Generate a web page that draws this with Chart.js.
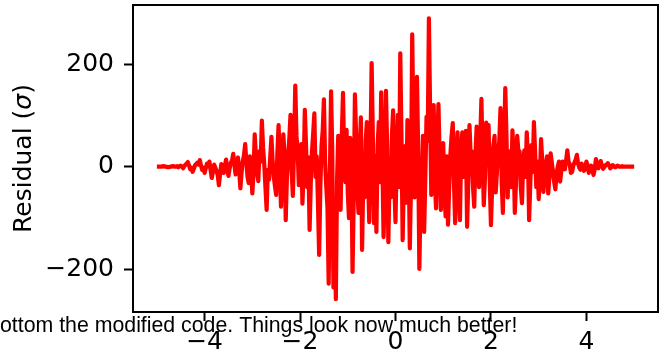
<!DOCTYPE html>
<html>
<head>
<meta charset="utf-8">
<script src="https://cdn.jsdelivr.net/npm/chart.js@4"></script>
<style>
  html, body { margin: 0; padding: 0; background: #fff; overflow: hidden; }
  #wrap { width: 661px; height: 356px; position: relative; }
</style>
</head>
<body>
<div id="wrap"><canvas id="c"></canvas></div>
<script>
// Sample grid: x from -5 to 5 in steps of 0.025
const xStart = -5;
const xStep = 0.025;

// Residuals in units of sigma, one per grid point (401 samples)
const residual = [
  0, 0, 0, 0, 0, 1, 1, 0, 0, -1, -1, 0, 0, 1, 1, 0, 0, 1, -1, 1,
  2, 0, -3, 1, 4, 6, 9, 2, -5, -2, -10, -4, 3, 5, 8, 4, 13, 2, -6, -2,
  -12, -3, 6, 1, 10, -6, -22, -10, 4, -2, -8, -16, -36, -14, 5, -4, -12, 2, 14, -6,
  -18, -3, 8, 12, 25, 4, -15, -4, 18, -8, -42, -12, 10, 22, 44, 10, -20, -32, 20, -6,
  -52, -14, 63, 20, -10, -28, 30, 10, 90, 38, 5, -40, -84, -6, -25, 18, 58, 12, -20, -38,
  -55, 26, 81, 10, -78, -12, 63, 24, -104, -20, 20, 54, 101, -12, -57, 40, 158, 60, 30, -36,
  -20, 44, -72, -10, 111, 42, -40, 18, -123, -30, 30, 64, 104, -20, 20, -70, -172, -40, 40, 70,
  131, 10, -40, -80, -228, -20, 147, 30, -235, -110, -258, -30, 60, -20, -84, 60, 144, 20, -30, 72,
  -50, -100, 56, 10, -205, -60, 141, 60, -40, -90, 30, 96, -162, -20, -60, 50, 87, -20, -108, 30,
  202, 60, -110, 20, -127, 40, 87, -30, 145, 20, -137, -40, 148, 40, -147, -20, -60, 60, 110, -30,
  -108, 20, 101, -40, 221, 60, -143, -20, 40, -70, 91, 20, -159, -30, 258, 80, -60, 50, 175, 30,
  -199, -60, -40, 60, -127, -20, 97, 50, 289, 110, -55, 40, 120, -30, -81, 50, 122, 20, -84, 40,
  46, -50, -97, 20, -113, -40, 23, 60, 85, -30, -110, 20, 67, -40, -104, 30, 67, -20, 40, 70,
  -117, -30, 81, 20, 30, -40, -78, 20, 78, 40, -40, 50, 132, 20, -75, -20, 86, 30, 81, -30,
  -114, -40, 40, 60, -50, -10, 28, 50, 114, -30, -90, 40, 153, 60, -60, 20, 30, -40, 71, 20,
  -90, -30, 60, 30, 30, -40, -71, 10, 32, -20, 67, 20, -104, -30, 42, -10, 87, 30, -40, 10,
  -63, -20, 54, 10, -49, -10, 5, 20, -52, -20, 26, 8, -10, -30, -44, -12, 0, 10, -29, -8,
  10, 6, -5, 12, 32, 10, 5, -12, -10, 2, 8, 14, 23, 6, -2, -6, 6, 0, -8, -2,
  10, 2, -12, -5, 2, -6, -16, -4, 15, 6, -3, 4, 11, 2, -4, -1, 3, 4, 7, 2,
  -3, -1, 3, 1, -1, 0, 2, 1, 0, 0, 1, 0, 0, 0, 0, 0, 0, 0, 0, 0,
  0
];

// Axis ticks
const xTickValues = [-4, -2, 0, 2, 4];
const yTickValues = [-200, 0, 200];

// Axis limits
const xLimits = [-5.5, 5.5];
const yLimits = [-283, 315];

// Texts
const yLabelParts = ['Residual (', 'σ', ')'];
const noteText = 'ottom the modified code. Things look now much better!';

const points = residual.map((v, i) => ({ x: +(xStart + i * xStep).toFixed(4), y: v }));

const tickFont = { family: '"DejaVu Sans"', size: 25 };
const fmt = v => (v < 0 ? '\u2212' + Math.abs(v) : String(v));

// Full box round the plotting area
const framePlugin = {
  id: 'frame',
  afterDatasetsDraw(chart) {
    const a = chart.chartArea, ctx = chart.ctx;
    ctx.save();
    ctx.strokeStyle = '#000';
    ctx.lineWidth = 2;
    ctx.strokeRect(a.left, a.top, a.right - a.left, a.bottom - a.top);
    ctx.restore();
  }
};

// Rotated y-axis title with an italic sigma
const yTitlePlugin = {
  id: 'yTitle',
  afterDraw(chart) {
    const a = chart.chartArea, ctx = chart.ctx;
    const fonts = ['25px "DejaVu Sans"', 'italic 25px "DejaVu Sans"', '25px "DejaVu Sans"'];
    ctx.save();
    let total = 0;
    const widths = yLabelParts.map((t, i) => { ctx.font = fonts[i]; const w = ctx.measureText(t).width; total += w; return w; });
    ctx.translate(31, (a.top + a.bottom) / 2 + total / 2);
    ctx.rotate(-Math.PI / 2);
    ctx.fillStyle = '#000';
    ctx.textBaseline = 'alphabetic';
    let x = 0;
    yLabelParts.forEach((t, i) => { ctx.font = fonts[i]; ctx.fillText(t, x, 0); x += widths[i]; });
    ctx.restore();
  }
};

// Caption line printed across the bottom of the figure
const notePlugin = {
  id: 'note',
  afterDraw(chart) {
    const ctx = chart.ctx;
    ctx.save();
    ctx.font = '21.3px "Liberation Sans"';
    ctx.fillStyle = '#000';
    ctx.textBaseline = 'alphabetic';
    ctx.fillText(noteText, 0, 332);
    ctx.restore();
  }
};

new Chart(document.getElementById('c'), {
  type: 'line',
  data: {
    datasets: [{
      data: points,
      borderColor: '#ff0000',
      borderWidth: 4.2,
      pointRadius: 0,
      tension: 0,
      fill: false,
      borderJoinStyle: 'round',
      borderCapStyle: 'butt'
    }]
  },
  options: {
    responsive: true,
    maintainAspectRatio: false,
    animation: false,
    devicePixelRatio: 1,
    layout: { padding: { left: 0, top: 5, right: 3, bottom: 0 } },
    plugins: { legend: { display: false }, tooltip: { enabled: false } },
    scales: {
      x: {
        type: 'linear',
        min: xLimits[0],
        max: xLimits[1],
        afterBuildTicks: s => { s.ticks = xTickValues.map(v => ({ value: v })); },
        afterFit: s => { s.height = 44; s.paddingLeft = 0; s.paddingRight = 0; },
        border: { display: false },
        grid: { display: true, drawOnChartArea: false, drawTicks: true, tickLength: 9, tickWidth: 2, tickColor: '#000' },
        ticks: { font: tickFont, color: '#000', padding: 6, maxRotation: 0, autoSkip: false, callback: fmt }
      },
      y: {
        type: 'linear',
        min: yLimits[0],
        max: yLimits[1],
        afterBuildTicks: s => { s.ticks = yTickValues.map(v => ({ value: v })); },
        afterFit: s => { s.width = 133; s.paddingTop = 0; s.paddingBottom = 0; },
        border: { display: false },
        grid: { display: true, drawOnChartArea: false, drawTicks: true, tickLength: 9, tickWidth: 2, tickColor: '#000' },
        ticks: { font: tickFont, color: '#000', padding: 10, autoSkip: false, callback: fmt }
      }
    }
  },
  plugins: [framePlugin, yTitlePlugin, notePlugin]
});
</script>
</body>
</html>
